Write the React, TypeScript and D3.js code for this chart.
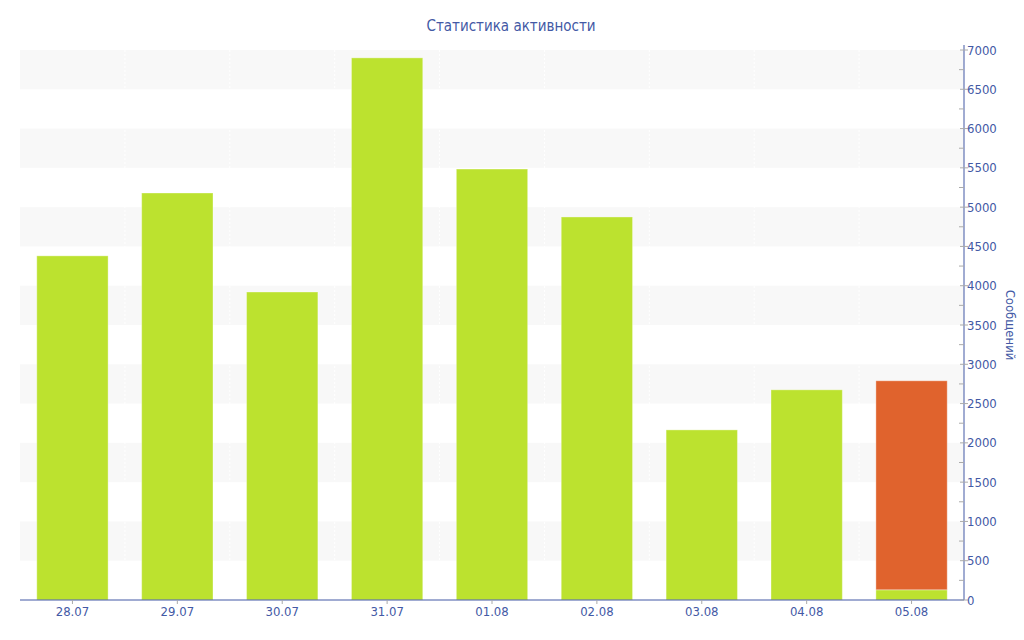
import React, { useEffect, useRef } from 'react';
import * as d3 from 'd3';

const days = ['28.07', '29.07', '30.07', '31.07', '01.08', '02.08', '03.08', '04.08', '05.08'];
const messages = [4380, 5180, 3920, 6900, 5485, 4875, 2165, 2675, 130];
const today = [0, 0, 0, 0, 0, 0, 0, 0, 2660];
const yTicks = [0, 500, 1000, 1500, 2000, 2500, 3000, 3500, 4000, 4500, 5000, 5500, 6000, 6500, 7000];

const width = 1024;
const height = 640;
const margin = { top: 50, right: 60, bottom: 40, left: 20 };
const textColor = '#4359a5';
const font = '"DejaVu Sans Condensed", "DejaVu Sans", Verdana, sans-serif';

const App: React.FC = () => {
  const svgRef = useRef<SVGSVGElement | null>(null);

  useEffect(() => {
    const svg = d3.select(svgRef.current);
    svg.selectAll('*').remove();

    const x = d3.scaleBand<string>()
      .domain(days)
      .range([margin.left, width - margin.right])
      .paddingInner(0.32)
      .paddingOuter(0.16);

    const y = d3.scaleLinear()
      .domain([0, 7000])
      .range([height - margin.bottom, margin.top]);

    const x0 = margin.left;
    const x1 = width - margin.right;

    // alternating background bands
    const bands = yTicks.filter(t => t % 1000 === 500);
    svg.append('g')
      .selectAll('rect')
      .data(bands)
      .enter().append('rect')
      .attr('x', x0)
      .attr('width', x1 - x0)
      .attr('y', d => y(d + 500))
      .attr('height', d => y(d) - y(d + 500))
      .attr('fill', '#f8f8f8');

    // faint vertical separators
    const step = x.step();
    svg.append('g')
      .selectAll('line')
      .data(days.slice(1))
      .enter().append('line')
      .attr('x1', d => (x(d) as number) - step * 0.16)
      .attr('x2', d => (x(d) as number) - step * 0.16)
      .attr('y1', margin.top)
      .attr('y2', height - margin.bottom)
      .attr('stroke', '#ffffff')
      .attr('stroke-dasharray', '2,2');

    const rows = days.map((d, i) => ({ day: d, base: messages[i], top: today[i] }));

    const bars = svg.append('g');
    bars.selectAll('rect.base')
      .data(rows)
      .enter().append('rect')
      .attr('class', 'base')
      .attr('x', d => x(d.day) as number)
      .attr('width', x.bandwidth())
      .attr('y', d => y(d.base))
      .attr('height', d => y(0) - y(d.base))
      .attr('fill', '#bce22f')
      .attr('stroke', 'rgba(255,255,255,0.35)')
      .attr('stroke-width', 1);

    bars.selectAll('rect.top')
      .data(rows.filter(r => r.top > 0))
      .enter().append('rect')
      .attr('class', 'top')
      .attr('x', d => x(d.day) as number)
      .attr('width', x.bandwidth())
      .attr('y', d => y(d.base + d.top))
      .attr('height', d => y(d.base) - y(d.base + d.top))
      .attr('fill', '#e0632d')
      .attr('stroke', 'rgba(255,255,255,0.35)')
      .attr('stroke-width', 1);

    // x axis
    const xAxis = svg.append('g').attr('transform', `translate(0,${y(0)})`);
    xAxis.append('line')
      .attr('x1', x0).attr('x2', x1)
      .attr('stroke', textColor).attr('stroke-width', 1);
    const xt = xAxis.selectAll('g.tick')
      .data(days)
      .enter().append('g')
      .attr('transform', d => `translate(${(x(d) as number) + x.bandwidth() / 2},0)`);
    xt.append('line').attr('y1', 0).attr('y2', 4).attr('stroke', '#aaa');
    xt.append('text')
      .attr('y', 16)
      .attr('text-anchor', 'middle')
      .attr('fill', textColor)
      .style('font', `13px ${font}`)
      .text(d => d);

    // right y axis
    const yAxis = svg.append('g').attr('transform', `translate(${x1},0)`);
    yAxis.append('line')
      .attr('y1', margin.top - 5).attr('y2', y(0))
      .attr('stroke', textColor).attr('stroke-width', 1);
    const minor = d3.range(250, 7000, 500);
    yAxis.selectAll('line.minor')
      .data(minor)
      .enter().append('line')
      .attr('class', 'minor')
      .attr('x1', -5).attr('x2', 0)
      .attr('y1', d => y(d)).attr('y2', d => y(d))
      .attr('stroke', '#aaa');
    const yt = yAxis.selectAll('g.tick')
      .data(yTicks)
      .enter().append('g')
      .attr('transform', d => `translate(0,${y(d)})`);
    yt.append('line').attr('x1', -4).attr('x2', 4).attr('stroke', '#aaa');
    yt.append('text')
      .attr('x', 3)
      .attr('dy', '0.35em')
      .attr('fill', textColor)
      .style('font', `13px ${font}`)
      .text(d => d);

    svg.append('text')
      .attr('transform', `translate(1006,${(margin.top + y(0)) / 2}) rotate(90)`)
      .attr('text-anchor', 'middle')
      .attr('fill', textColor)
      .style('font', `13px ${font}`)
      .text('Сообщений');

    svg.append('text')
      .attr('x', 511)
      .attr('y', 31)
      .attr('text-anchor', 'middle')
      .attr('fill', textColor)
      .style('font', `15px ${font}`)
      .text('Статистика активности');
  }, []);

  return (
    <svg
      ref={svgRef}
      width={width}
      height={height}
      style={{ position: 'fixed', left: 0, top: 0, background: '#fff' }}
    />
  );
};

export default App;
